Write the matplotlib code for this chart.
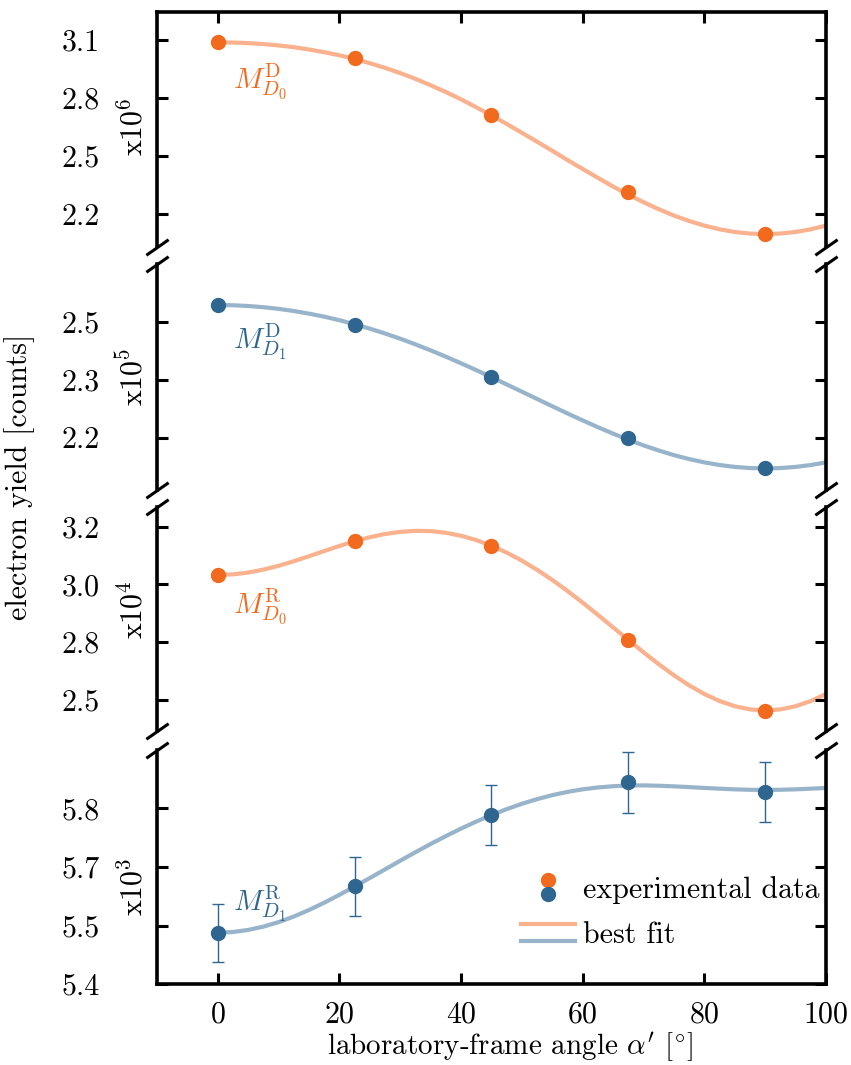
import matplotlib
matplotlib.use("Agg")
import matplotlib.pyplot as plt
from matplotlib.ticker import FormatStrFormatter
from matplotlib.legend_handler import HandlerBase
from matplotlib.lines import Line2D

plt.rcParams.update({
    "font.family": ["cmr10"],
    "mathtext.fontset": "cm",
    "axes.formatter.use_mathtext": True,
    "font.size": 21.5,
})

# measured angles and fit sampling grid (degrees)
angles = [0, 22.5, 45, 67.5, 90]
fit_angles = [0, 2.5, 5, 7.5, 10, 12.5, 15, 17.5, 20, 22.5, 25, 27.5, 30, 32.5, 35, 37.5,
              40, 42.5, 45, 47.5, 50, 52.5, 55, 57.5, 60, 62.5, 65, 67.5, 70, 72.5, 75,
              77.5, 80, 82.5, 85, 87.5, 90, 92.5, 95, 97.5, 100]

# M^D_D0 (x10^6)
md_d0 = [3.088, 3.005, 2.710, 2.315, 2.096]
md_d0_fit = [3.088, 3.087, 3.084, 3.079, 3.072, 3.063, 3.051, 3.037, 3.021, 3.002, 2.980,
             2.956, 2.929, 2.899, 2.866, 2.831, 2.793, 2.752, 2.710, 2.666, 2.620, 2.574,
             2.527, 2.479, 2.433, 2.387, 2.342, 2.300, 2.261, 2.225, 2.192, 2.164, 2.140,
             2.121, 2.107, 2.099, 2.096, 2.099, 2.107, 2.121, 2.140]

# M^D_D1 (x10^5)
md_d1 = [2.500, 2.452, 2.326, 2.179, 2.106]
md_d1_fit = [2.500, 2.4995, 2.4977, 2.4948, 2.4908, 2.4856, 2.4793, 2.4720, 2.4634, 2.4538,
             2.4431, 2.4314, 2.4188, 2.4052, 2.3907, 2.3755, 2.3595, 2.3430, 2.3260, 2.3086,
             2.2911, 2.2735, 2.2559, 2.2386, 2.2218, 2.2054, 2.1899, 2.1752, 2.1616, 2.1492,
             2.1381, 2.1286, 2.1206, 2.1142, 2.1097, 2.1069, 2.1060, 2.1069, 2.1097, 2.1142,
             2.1206]

# M^R_D0 (x10^4)
mr_d0 = [3.012, 3.144, 3.126, 2.759, 2.483]
mr_d0_fit = [3.012, 3.0144, 3.0214, 3.0329, 3.0478, 3.0656, 3.0851, 3.1053, 3.1251, 3.1433,
             3.1592, 3.1716, 3.1800, 3.1839, 3.1828, 3.1764, 3.1647, 3.1479, 3.1260, 3.0991,
             3.0677, 3.0320, 2.9924, 2.9495, 2.9040, 2.8564, 2.8076, 2.7587, 2.7105, 2.6643,
             2.6209, 2.5818, 2.5482, 2.5207, 2.5006, 2.4882, 2.4840, 2.4882, 2.5006, 2.5207,
             2.5482]

# M^R_D1 (x10^3)
mr_d1 = [5.517, 5.623, 5.785, 5.859, 5.837]
mr_d1_err = [0.066, 0.067, 0.068, 0.069, 0.069]
mr_d1_fit = [5.517, 5.5184, 5.5232, 5.5307, 5.5410, 5.5537, 5.5686, 5.5852, 5.6032, 5.6220,
             5.6415, 5.6611, 5.6809, 5.7002, 5.7190, 5.7369, 5.7541, 5.7700, 5.7849, 5.7984,
             5.8105, 5.8211, 5.8302, 5.8376, 5.8435, 5.8477, 5.8505, 5.8520, 5.8524, 5.8516,
             5.8502, 5.8485, 5.8466, 5.8449, 5.8434, 5.8424, 5.8421, 5.8424, 5.8434, 5.8449,
             5.8466]

orange = "#f26a1d"
orange_fit = "#f9b18e"
blue = "#2f6690"
blue_fit = "#98b4cb"

# axes boxes in pixels (top, bottom) on a 851x1065 canvas
W, H = 851, 1065
left, right = 157, 826
boxes = [(12, 246.5), (264, 490), (506.7, 731), (750, 984)]

panels = [
    dict(y=md_d0, fit=md_d0_fit, err=None, c=orange, cf=orange_fit,
         lim=(2.032, 3.245), ticks=[2.2, 2.5, 2.8, 3.1], exp="x10$^6$", ey=0.51,
         name=r"$M^{\mathrm{D}}_{D_0}$", ny=2.99),
    dict(y=md_d1, fit=md_d1_fit, err=None, c=blue, cf=blue_fit,
         lim=(2.054, 2.599), ticks=[2.18, 2.32, 2.46], exp="x10$^5$", ey=0.5,
         name=r"$M^{\mathrm{D}}_{D_1}$", ny=2.459),
    dict(y=mr_d0, fit=mr_d0_fit, err=None, c=orange, cf=orange_fit,
         lim=(2.404, 3.278), ticks=[2.525, 2.75, 2.975, 3.2], exp="x10$^4$", ey=0.54,
         name=r"$M^{\mathrm{R}}_{D_0}$", ny=2.968),
    dict(y=mr_d1, fit=mr_d1_fit, err=mr_d1_err, c=blue, cf=blue_fit,
         lim=(5.4, 5.933), ticks=[5.4, 5.533, 5.667, 5.8], exp="x10$^3$", ey=0.415,
         name=r"$M^{\mathrm{R}}_{D_1}$", ny=5.627),
]

fig = plt.figure(figsize=(W / 100, H / 100), dpi=100)

# diagonal break marks
d = 0.7
brk = dict(marker=[(-1, -d), (1, d)], markersize=16, linestyle="none",
           color="k", mec="k", mew=2.2, clip_on=False)

axes = []
for i, p in enumerate(panels):
    top, bot = boxes[i]
    ax = fig.add_axes([left / W, 1 - bot / H, (right - left) / W, (bot - top) / H])
    axes.append(ax)

    ax.plot(fit_angles, p["fit"], color=p["cf"], lw=3, zorder=1,
            solid_joinstyle="round")
    if p["err"] is None:
        ax.plot(angles, p["y"], "o", color=p["c"], ms=10, zorder=3)
    else:
        ax.errorbar(angles, p["y"], yerr=p["err"], fmt="o", color=p["c"], ms=10,
                    elinewidth=1, capsize=4.5, capthick=1, zorder=3)

    ax.text(2.5, p["ny"], p["name"], color=p["c"], ha="left", va="top", fontsize=21)
    ax.text(-0.036, p["ey"], p["exp"], transform=ax.transAxes, rotation=90,
            ha="center", va="center")

    ax.set_xlim(-10, 100)
    ax.set_ylim(*p["lim"])
    ax.set_xticks([0, 20, 40, 60, 80, 100])
    ax.set_yticks(p["ticks"])
    ax.yaxis.set_major_formatter(FormatStrFormatter("%.1f"))

    for s in ax.spines.values():
        s.set_linewidth(2.6)
    ax.tick_params(axis="y", direction="in", length=8, width=2.2,
                   left=True, right=True, pad=41)
    ax.tick_params(axis="x", direction="in", length=8, width=2.2, pad=12,
                   top=(i == 0), bottom=(i == 3), labelbottom=(i == 3))

    if i > 0:
        ax.spines["top"].set_visible(False)
        ax.plot([0, 1], [1, 1], transform=ax.transAxes, **brk)
    if i < 3:
        ax.spines["bottom"].set_visible(False)
        ax.plot([0, 1], [0, 0], transform=ax.transAxes, **brk)

axes[3].set_xlabel(r"laboratory-frame angle $\alpha^{\prime}$ [$^{\circ}$]", fontsize=21)
axes[3].xaxis.set_label_coords(0.527, -0.198)
fig.text(20 / W, 1 - 477 / H, "electron yield [counts]", rotation=90,
         ha="center", va="center")


# legend keys with the orange and blue entries stacked on top of each other
class StackedKey:
    def __init__(self, kind, colors):
        self.kind = kind
        self.colors = colors


class StackedHandler(HandlerBase):
    def create_artists(self, legend, orig_handle, xdescent, ydescent,
                       width, height, fontsize, trans):
        arts = []
        cy = height / 2 - ydescent
        if orig_handle.kind == "marker":
            for c, o in zip(orig_handle.colors, [5, -5]):
                arts.append(Line2D([width / 2 - xdescent], [cy + o], marker="o",
                                   ms=10, color=c, linestyle="none", transform=trans))
        else:
            for c, o in zip(orig_handle.colors, [5.8, -5.8]):
                arts.append(Line2D([-xdescent, width - xdescent], [cy + o, cy + o],
                                   color=c, lw=3, transform=trans))
        return arts


keys = [StackedKey("marker", [orange, blue]), StackedKey("line", [orange_fit, blue_fit])]
axes[3].legend(keys, ["experimental data", "best fit"],
               handler_map={StackedKey: StackedHandler()},
               loc="lower right", bbox_to_anchor=(0.99, 0.15), borderaxespad=0,
               borderpad=0, frameon=False, handlelength=1.81, handletextpad=0.27,
               labelspacing=0.6)

fig.savefig("out.png", dpi=100)
